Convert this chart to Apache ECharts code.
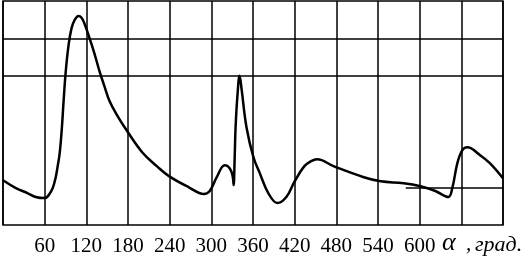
<!DOCTYPE html>
<html>
<head>
<meta charset="utf-8">
<script src="https://cdn.jsdelivr.net/npm/echarts@6/dist/echarts.min.js"></script>
<style>
  html, body { margin: 0; padding: 0; background: #fff; }
  #chart { width: 527px; height: 258px; }
</style>
</head>
<body>
<div id="chart"></div>
<script>
// угол, град.
var angles = [0, 18.6, 35.8, 47.2, 60.1, 65.8, 71.6, 75.9, 78.7, 81.6, 84.5, 87.3, 90.2, 94.5, 98.8,
    103.1, 108.8, 113.1, 117.4, 124.5, 131.7, 138.8, 146.0, 153.2, 164.6, 176.1, 200.4, 221.9, 239.0,
    267.7, 289.1, 297.7, 307.8, 319.2, 326.4, 330.7, 332.1, 333.5, 334.9, 337.8, 340.7, 343.5, 350.7,
    360.7, 369.3, 382.2, 395.1, 408.0, 419.4, 433.7, 443.7, 452.3, 476.7, 519.6, 543.9, 576.9, 601.2,
    622.7, 641.3, 647.0, 654.2, 661.3, 668.5, 687.1, 701.4, 720];
// значения кривой (условные единицы)
var values = [1.20, 0.99, 0.85, 0.75, 0.72, 0.80, 0.99, 1.28, 1.57, 1.92, 2.53, 3.33, 4.08, 4.83, 5.28,
    5.49, 5.60, 5.55, 5.39, 5.01, 4.59, 4.13, 3.72, 3.33, 2.93, 2.59, 1.95, 1.57, 1.31,
    1.01, 0.83, 0.91, 1.28, 1.60, 1.52, 1.31, 1.07, 1.73, 2.61, 3.52, 4.00, 3.65, 2.61,
    1.81, 1.41, 0.85, 0.59, 0.75, 1.15, 1.57, 1.71, 1.76, 1.57, 1.28, 1.17, 1.12, 1.04,
    0.91, 0.75, 0.99, 1.65, 2.00, 2.08, 1.87, 1.65, 1.25];
var tickLabels = [60, 120, 180, 240, 300, 360, 420, 480, 540, 600];

var chart = echarts.init(document.getElementById('chart'));

var points = angles.map(function (a, i) { return [a, values[i]]; });

var axisFont = 'Liberation Serif';

var option = {
    animation: false,
    grid: {
        left: 0, right: 24, top: 1, bottom: 33,
        show: true,
        borderColor: '#000',
        borderWidth: 1.5
    },
    xAxis: {
        type: 'value',
        min: 0, max: 720, interval: 60,
        axisLine: { show: false },
        axisTick: { show: false },
        splitLine: { show: true, lineStyle: { color: '#000', width: 1.5 } },
        axisLabel: {
            margin: 11,
            fontFamily: axisFont,
            fontSize: 21,
            color: '#000',
            formatter: function (v) { return tickLabels.indexOf(v) >= 0 ? String(v) : ''; }
        }
    },
    yAxis: {
        type: 'value',
        min: 0, max: 6, interval: 1,
        axisLine: { show: false },
        axisTick: { show: false },
        axisLabel: { show: false },
        splitLine: { show: false }
    },
    series: [{
        type: 'line',
        data: points,
        smooth: 0.4,
        symbol: 'none',
        lineStyle: { color: '#000', width: 2.5 },
        markLine: {
            silent: true,
            symbol: 'none',
            label: { show: false },
            lineStyle: { color: '#000', width: 1.5, type: 'solid' },
            data: [
                { yAxis: 5 },
                { yAxis: 4 },
                [{ coord: [580, 1] }, { coord: [720, 1] }]
            ]
        }
    }],
    // подпись оси: α , град.
    graphic: [
        {
            type: 'text', left: 442, top: 230,
            style: { text: 'α', font: 'italic 26px "Liberation Serif"', fill: '#000' }
        },
        {
            type: 'text', left: 466, top: 234,
            style: { text: ',', font: 'italic 21px "Liberation Serif"', fill: '#000' }
        },
        {
            type: 'text', left: 475, top: 234,
            style: { text: 'град.', font: 'italic 22px "Liberation Serif"', fill: '#000' }
        }
    ]
};

chart.setOption(option);
</script>
</body>
</html>
